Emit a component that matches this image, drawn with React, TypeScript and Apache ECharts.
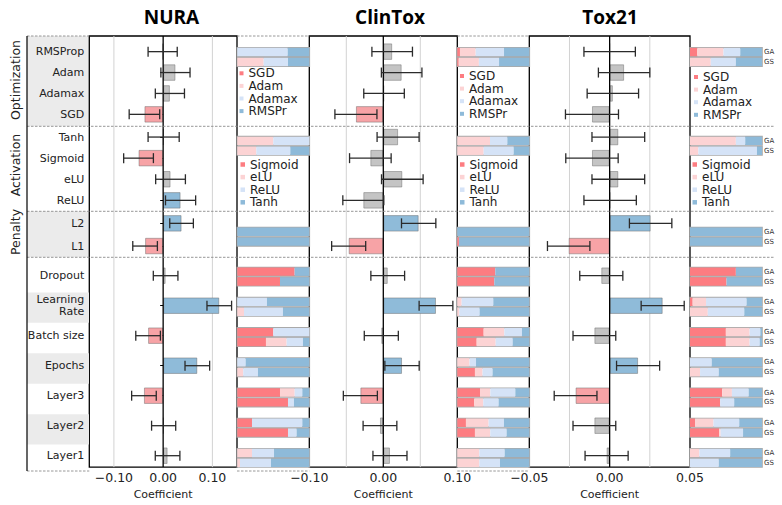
import React, { useEffect, useRef } from 'react';
import * as echarts from 'echarts';

const DATASETS = ['NURA', 'ClinTox', 'Tox21'];
const GROUP_NAMES = ['Optimization', 'Activation', 'Penalty'];
const OPT_ROWS = ['RMSProp', 'Adam', 'Adamax', 'SGD'];
const ACT_ROWS = ['Tanh', 'Sigmoid', 'eLU', 'ReLU'];
const PEN_ROWS = ['L2', 'L1'];
const HP_ROWS = ['Dropout', 'Learning\nRate', 'Batch size', 'Epochs', 'Layer3', 'Layer2', 'Layer1'];
const GROUP_ROWS = [OPT_ROWS, ACT_ROWS, PEN_ROWS, HP_ROWS];

const OPT_LEVELS = ['SGD', 'Adam', 'Adamax', 'RMSPr'];
const ACT_LEVELS = ['Sigmoid', 'eLU', 'ReLU', 'Tanh'];
const PEN_LEVELS = ['L1', 'L2'];
const HP_LEVELS = ['level 1', 'level 2', 'level 3', 'level 4'];
const GROUP_LEVELS = [OPT_LEVELS, ACT_LEVELS, PEN_LEVELS, HP_LEVELS];

const AXIS_MIN = [-0.15, -0.1, -0.05];
const AXIS_MAX = [0.15, 0.1, 0.05];
const AXIS_STEP = [0.05, 0.05, 0.025];
const TICK_LABELS = [[-0.1, 0, 0.1], [-0.1, 0, 0.1], [-0.05, 0, 0.05]];
const GRID_VALUES = [[-0.1, 0.1], [-0.05, 0.05], [-0.025, 0.025]];

// coefficient rows: Optimization(4), Activation(4), Penalty(2), others(7)
const NURA_COEF = [-0.001, 0.025, 0.0137, -0.038, 0.001, -0.05, 0.015, 0.0354, 0.0374, -0.0367, 0.005, 0.114, -0.0306, 0.0694, -0.039, 0.001, 0.009];
const NURA_ERR = [0.0296, 0.0296, 0.0296, 0.031, 0.0316, 0.0302, 0.0302, 0.0306, 0.024, 0.025, 0.025, 0.025, 0.025, 0.025, 0.025, 0.0245, 0.025];
const NURA_SIG = ['ns', 'ns', 'ns', 'neg', 'ns', 'neg', 'ns', 'pos', 'pos', 'neg', 'ns', 'pos', 'neg', 'pos', 'neg', 'ns', 'ns'];

const CLINTOX_COEF = [0.012, 0.0248, 0.001, -0.037, 0.02, -0.0175, 0.0257, -0.027, 0.0478, -0.0468, 0.006, 0.0712, -0.0027, 0.0253, -0.031, -0.0045, 0.009];
const CLINTOX_ERR = [0.0274, 0.0274, 0.0274, 0.0284, 0.0284, 0.0281, 0.0281, 0.0277, 0.0232, 0.023, 0.0228, 0.0228, 0.023, 0.0232, 0.023, 0.0228, 0.023];
const CLINTOX_SIG = ['ns', 'ns', 'ns', 'neg', 'ns', 'ns', 'ns', 'ns', 'pos', 'neg', 'ns', 'pos', 'ns', 'pos', 'neg', 'ns', 'ns'];

const TOX21_COEF = [0.0, 0.009, 0.002, -0.011, 0.0054, -0.011, 0.0054, 0.0003, 0.0255, -0.0255, -0.0052, 0.033, -0.0095, 0.0177, -0.0212, -0.0095, -0.0019];
const TOX21_ERR = [0.016, 0.016, 0.016, 0.0165, 0.0164, 0.0163, 0.0164, 0.0163, 0.0132, 0.0132, 0.0134, 0.0134, 0.0133, 0.0134, 0.0133, 0.0133, 0.0134];
const TOX21_SIG = ['ns', 'ns', 'ns', 'ns', 'ns', 'ns', 'ns', 'ns', 'pos', 'neg', 'ns', 'pos', 'ns', 'pos', 'neg', 'ns', 'ns'];

// stacked shares (GA = genetic algorithm, GS = grid search)
const NURA_OPT_GA = [0, 0, 0.7, 0.3];
const NURA_OPT_GS = [0, 0.366, 0.338, 0.296];
const NURA_ACT_GA = [0, 0.5, 0.5, 0];
const NURA_ACT_GS = [0, 0.264, 0.472, 0.264];
const NURA_PEN_GA = [0, 1];
const NURA_PEN_GS = [0, 1];
const NURA_HP_GA = [
  [0.796, 0, 0, 0.204],
  [0, 0, 0.412, 0.588],
  [0.5, 0, 0.5, 0],
  [0, 0, 0.116, 0.884],
  [0.593, 0.204, 0.106, 0.097],
  [0.204, 0, 0.699, 0.097],
  [0, 0.204, 0.306, 0.49],
];
const NURA_HP_GS = [
  [0.593, 0, 0, 0.407],
  [0, 0.093, 0.541, 0.366],
  [0.398, 0.287, 0.227, 0.088],
  [0, 0.083, 0.204, 0.713],
  [0.704, 0, 0.083, 0.213],
  [0.704, 0, 0.12, 0.176],
  [0, 0.037, 0.431, 0.532],
];

const CLINTOX_OPT_GA = [0.037, 0.218, 0.394, 0.351];
const CLINTOX_OPT_GS = [0.02, 0.28, 0.28, 0.42];
const CLINTOX_ACT_GA = [0, 0.454, 0.241, 0.305];
const CLINTOX_ACT_GS = [0, 0.366, 0.417, 0.217];
const CLINTOX_PEN_GA = [0, 1];
const CLINTOX_PEN_GS = [0.023, 0.977];
const CLINTOX_HP_GA = [
  [0.528, 0, 0, 0.472],
  [0, 0.06, 0.44, 0.5],
  [0.366, 0.287, 0.245, 0.102],
  [0, 0.17, 0.09, 0.74],
  [0.315, 0.144, 0.347, 0.194],
  [0.12, 0.315, 0.213, 0.352],
  [0, 0.306, 0.352, 0.342],
];
const CLINTOX_HP_GS = [
  [0.514, 0, 0, 0.486],
  [0, 0.028, 0.282, 0.69],
  [0.269, 0.264, 0.236, 0.231],
  [0.245, 0.106, 0.139, 0.51],
  [0.236, 0.125, 0.213, 0.426],
  [0.245, 0.213, 0.227, 0.315],
  [0, 0.306, 0.287, 0.407],
];

const TOX21_OPT_GA = [0.102, 0.363, 0.233, 0.302];
const TOX21_OPT_GS = [0, 0.288, 0.349, 0.363];
const TOX21_ACT_GA = [0, 0.637, 0.13, 0.233];
const TOX21_ACT_GS = [0, 0.116, 0.814, 0.07];
const TOX21_PEN_GA = [0, 1];
const TOX21_PEN_GS = [0, 1];
const TOX21_HP_GA = [
  [0.637, 0, 0, 0.363],
  [0.037, 0.186, 0.563, 0.214],
  [0.498, 0.33, 0.149, 0.023],
  [0, 0, 0.302, 0.698],
  [0.447, 0.135, 0.233, 0.185],
  [0.07, 0.256, 0.358, 0.316],
  [0, 0.13, 0.428, 0.442],
];
const TOX21_HP_GS = [
  [0.507, 0, 0, 0.493],
  [0, 0.247, 0.507, 0.246],
  [0.498, 0.33, 0.14, 0.032],
  [0, 0.14, 0.26, 0.6],
  [0.419, 0, 0.195, 0.386],
  [0.405, 0.02, 0.312, 0.263],
  [0, 0, 0.4, 0.6],
];

const COEFS = [NURA_COEF, CLINTOX_COEF, TOX21_COEF];
const ERRS = [NURA_ERR, CLINTOX_ERR, TOX21_ERR];
const SIGS = [NURA_SIG, CLINTOX_SIG, TOX21_SIG];
const STACKS = [
  [
    { GA: [NURA_OPT_GA], GS: [NURA_OPT_GS] },
    { GA: [NURA_ACT_GA], GS: [NURA_ACT_GS] },
    { GA: [NURA_PEN_GA], GS: [NURA_PEN_GS] },
    { GA: NURA_HP_GA, GS: NURA_HP_GS },
  ],
  [
    { GA: [CLINTOX_OPT_GA], GS: [CLINTOX_OPT_GS] },
    { GA: [CLINTOX_ACT_GA], GS: [CLINTOX_ACT_GS] },
    { GA: [CLINTOX_PEN_GA], GS: [CLINTOX_PEN_GS] },
    { GA: CLINTOX_HP_GA, GS: CLINTOX_HP_GS },
  ],
  [
    { GA: [TOX21_OPT_GA], GS: [TOX21_OPT_GS] },
    { GA: [TOX21_ACT_GA], GS: [TOX21_ACT_GS] },
    { GA: [TOX21_PEN_GA], GS: [TOX21_PEN_GS] },
    { GA: TOX21_HP_GA, GS: TOX21_HP_GS },
  ],
];

// ---------- styling / layout ----------
const FONT = 'DejaVu Sans';
const TEXT = '#222';
const SIG_COLORS: Record<string, string> = { pos: '#8fbbd9', neg: '#f7a3a6', ns: '#c4c4c4' };
const RED = '#fd7c81';
const PINK = '#fcd3d4';
const LBLUE = '#d5e3f7';
const BLUE = '#8ebad9';
const GROUP_COLORS = [
  [RED, PINK, LBLUE, BLUE],
  [RED, PINK, LBLUE, BLUE],
  [RED, BLUE],
  [RED, PINK, LBLUE, BLUE],
];

const COEF_X = [[89.3, 237], [309.3, 457.3], [529.3, 690]];
const STACK_X = [[237.3, 309.3], [457.3, 529.3], [690, 762]];
const PANEL_TOP = 36;
const PANEL_BOTTOM = 471;
const BOX_Y = [[36, 126.3], [126.3, 211.3], [211.3, 257.3], [262, 475]];
const COEF_Y = [[41.2, 124.8], [126.5, 210.9], [212, 257.4], [260.7, 470.7]];
const STACK_Y = [[46, 68], [134.8, 156.8], [225.7, 247.7], [261.5, 473]];
const TITLE_X = [171.5, 390, 610];
const GROUP_LABEL_Y = [80, 165, 232];
const OPT_LEGEND = [[239.5, 67.3], [460, 70], [694, 71]];
const ACT_LEGEND = [[240.5, 158.5], [460, 158.5], [692.5, 158.5]];

function fmt(v: number) {
  const s = Math.abs(v).toFixed(2);
  return v < -1e-9 ? '\u2212' + s : s;
}

function vline(color: string, width: number) {
  return (params: any, api: any) => {
    const x = api.coord([api.value(0), 0])[0];
    const cs = params.coordSys;
    return {
      type: 'line',
      shape: { x1: x, y1: cs.y, x2: x, y2: cs.y + cs.height },
      style: { stroke: color, lineWidth: width },
    };
  };
}

function errBar(params: any, api: any) {
  const yi = api.value(0);
  const a = api.coord([api.value(1), yi]);
  const b = api.coord([api.value(2), yi]);
  const h = 5;
  const style = { stroke: '#2b2b2b', lineWidth: 1.3 };
  return {
    type: 'group',
    children: [
      { type: 'line', shape: { x1: a[0], y1: a[1], x2: b[0], y2: b[1] }, style },
      { type: 'line', shape: { x1: a[0], y1: a[1] - h, x2: a[0], y2: a[1] + h }, style },
      { type: 'line', shape: { x1: b[0], y1: b[1] - h, x2: b[0], y2: b[1] + h }, style },
    ],
  };
}

function buildOption() {
  const grid: any[] = [];
  const xAxis: any[] = [];
  const yAxis: any[] = [];
  const series: any[] = [];
  const legend: any[] = [];
  const elements: any[] = [];

  const add = (g: any, x: any, y: any) => {
    grid.push(g);
    const i = grid.length - 1;
    xAxis.push({ ...x, gridIndex: i });
    yAxis.push({ ...y, gridIndex: i });
    return i;
  };

  // label column backgrounds
  GROUP_ROWS.forEach((rows, g) => {
    const [t, b] = BOX_Y[g];
    add(
      { left: 27, width: 62, top: t, height: b - t, show: g === 0 || g === 2, backgroundColor: '#ebebeb', borderWidth: 0 },
      { type: 'value', min: 0, max: 1, show: false },
      {
        type: 'category', data: rows, inverse: true,
        axisLine: { show: false }, axisTick: { show: false }, axisLabel: { show: false },
        splitLine: { show: false },
        splitArea: { show: g === 3, areaStyle: { color: ['rgba(0,0,0,0)', '#ebebeb'] } },
      },
    );
  });

  // coefficient frames
  DATASETS.forEach((_, d) => {
    const [x0, x1] = COEF_X[d];
    const gi = add(
      { left: x0, width: x1 - x0, top: PANEL_TOP, height: PANEL_BOTTOM - PANEL_TOP, show: true, borderColor: '#000', borderWidth: 1.3, backgroundColor: 'rgba(0,0,0,0)' },
      {
        type: 'value', min: AXIS_MIN[d], max: AXIS_MAX[d], interval: AXIS_STEP[d],
        axisLine: { show: false }, axisTick: { show: false }, splitLine: { show: false },
        axisLabel: {
          showMinLabel: true, showMaxLabel: true, margin: 4, fontSize: 12.5, color: TEXT, fontFamily: FONT,
          formatter: (v: number) => (TICK_LABELS[d].some((t) => Math.abs(t - v) < 1e-9) ? fmt(v) : ''),
        },
        name: 'Coefficient', nameLocation: 'middle', nameGap: 17,
        nameTextStyle: { fontSize: 11, color: TEXT, fontFamily: FONT },
      },
      { type: 'value', min: 0, max: 1, show: false },
    );
    series.push({
      type: 'custom', xAxisIndex: gi, yAxisIndex: gi, z: 1, silent: true,
      data: GRID_VALUES[d].map((v) => [v, 0]), encode: { x: 0, y: 1 }, renderItem: vline('#d2d2d2', 1),
    });
    series.push({
      type: 'custom', xAxisIndex: gi, yAxisIndex: gi, z: 3, silent: true,
      data: [[0, 0]], encode: { x: 0, y: 1 }, renderItem: vline('#000', 1.3),
    });
  });

  // coefficient bars + error bars
  let offset = 0;
  GROUP_ROWS.forEach((rows, g) => {
    DATASETS.forEach((_, d) => {
      const coef = COEFS[d].slice(offset, offset + rows.length);
      const err = ERRS[d].slice(offset, offset + rows.length);
      const sig = SIGS[d].slice(offset, offset + rows.length);
      const [x0, x1] = COEF_X[d];
      const [t, b] = COEF_Y[g];
      const gi = add(
        { left: x0, width: x1 - x0, top: t, height: b - t },
        { type: 'value', min: AXIS_MIN[d], max: AXIS_MAX[d], show: false },
        {
          type: 'category', data: rows, inverse: true, show: d === 0,
          axisLine: { show: false },
          axisTick: { show: true, alignWithLabel: true, length: 3, lineStyle: { color: '#000', width: 1 } },
          axisLabel: { fontSize: 11, margin: 5, color: TEXT, fontFamily: FONT, lineHeight: 12 },
          splitLine: { show: false },
        },
      );
      series.push({
        type: 'bar', xAxisIndex: gi, yAxisIndex: gi, barWidth: 16.5, z: 2,
        itemStyle: { borderColor: 'rgba(100,100,100,0.45)', borderWidth: 1 },
        data: coef.map((v, i) => ({ value: v, itemStyle: { color: SIG_COLORS[sig[i]] } })),
      });
      series.push({
        type: 'custom', xAxisIndex: gi, yAxisIndex: gi, z: 4,
        data: coef.map((v, i) => [i, v - err[i], v + err[i]]),
        encode: { y: 0, x: [1, 2] },
        renderItem: errBar,
      });
    });
    offset += rows.length;
  });

  // stacked share panels
  GROUP_ROWS.forEach((rows, g) => {
    DATASETS.forEach((_, d) => {
      const st: any = STACKS[d][g];
      const [x0, x1] = STACK_X[d];
      const [t, b] = STACK_Y[g];
      const gi = add(
        { left: x0, width: x1 - x0, top: t, height: b - t },
        { type: 'value', min: 0, max: 1, show: false },
        { type: 'category', data: g === 3 ? rows : [''], inverse: true, show: false },
      );
      const levels = GROUP_LEVELS[g];
      const colors = GROUP_COLORS[g];
      ['GA', 'GS'].forEach((key) => {
        const data: number[][] = st[key];
        levels.forEach((lv, l) => {
          series.push({
            type: 'bar', name: lv, stack: `${DATASETS[d]}-${g}-${key}`, xAxisIndex: gi, yAxisIndex: gi,
            barWidth: 8.4, barGap: '18%', silent: true,
            data: data.map((r) => r[l]),
            itemStyle: { color: colors[l] },
            showBackground: l === 0,
            backgroundStyle: { color: 'rgba(0,0,0,0)', borderColor: '#a9a9a9', borderWidth: 1.6 },
            label: d === 2 && l === levels.length - 1
              ? { show: true, position: 'right', distance: 2, formatter: key, fontSize: 7, color: '#333', fontFamily: FONT }
              : { show: false },
          });
        });
      });
    });
  });

  // legends
  DATASETS.forEach((_, d) => {
    legend.push({
      data: OPT_LEVELS, orient: 'vertical', left: OPT_LEGEND[d][0], top: OPT_LEGEND[d][1],
      itemWidth: 4, itemHeight: 4, itemGap: 0.6, padding: 0, icon: 'rect', selectedMode: false,
      textStyle: { fontSize: 12, lineHeight: 12, color: TEXT, fontFamily: FONT },
    });
    legend.push({
      data: ACT_LEVELS, orient: 'vertical', left: ACT_LEGEND[d][0], top: ACT_LEGEND[d][1],
      itemWidth: 4.5, itemHeight: 4.5, itemGap: 0.6, padding: 0, icon: 'rect', selectedMode: false,
      textStyle: { fontSize: 12, lineHeight: 12, color: TEXT, fontFamily: FONT },
    });
  });

  // titles
  DATASETS.forEach((name, d) => {
    elements.push({
      type: 'text', x: TITLE_X[d], y: 17,
      style: { text: name, fontSize: 19, fontWeight: 'bold', fontFamily: 'Open Sans', fill: '#000', align: 'center', verticalAlign: 'middle' },
    });
  });
  // group labels
  GROUP_NAMES.forEach((name, g) => {
    elements.push({
      type: 'text', x: 15, y: GROUP_LABEL_Y[g], rotation: Math.PI / 2,
      style: { text: name, fontSize: 12.5, fontFamily: FONT, fill: TEXT, align: 'center', verticalAlign: 'middle' },
    });
  });
  // dashed separators
  const dash = { stroke: '#8c8c8c', lineWidth: 0.9, lineDash: [2.5, 1.5] };
  [126.3, 211.3, 257.3].forEach((y) => {
    elements.push({ type: 'line', z: 5, shape: { x1: 27, y1: y, x2: 775, y2: y }, style: dash });
  });
  [PANEL_TOP, PANEL_BOTTOM].forEach((y) => {
    [[27, 89.3], [237, 309.3], [457.3, 529.3]].forEach(([a, b]) => {
      elements.push({ type: 'line', z: 5, shape: { x1: a, y1: y, x2: b, y2: y }, style: dash });
    });
  });
  elements.push({ type: 'line', z: 5, shape: { x1: 27, y1: PANEL_TOP, x2: 27, y2: PANEL_BOTTOM }, style: { stroke: '#000', lineWidth: 1.2 } });

  return {
    animation: false,
    backgroundColor: '#fff',
    grid, xAxis, yAxis, series, legend,
    graphic: { elements },
  };
}

export default function App() {
  const ref = useRef<HTMLDivElement>(null);
  useEffect(() => {
    const chart = echarts.init(ref.current!, null, { renderer: 'svg' });
    chart.setOption(buildOption() as any);
    return () => chart.dispose();
  }, []);
  return <div ref={ref} style={{ position: 'absolute', left: 0, top: 0, width: 782, height: 505 }} />;
}
